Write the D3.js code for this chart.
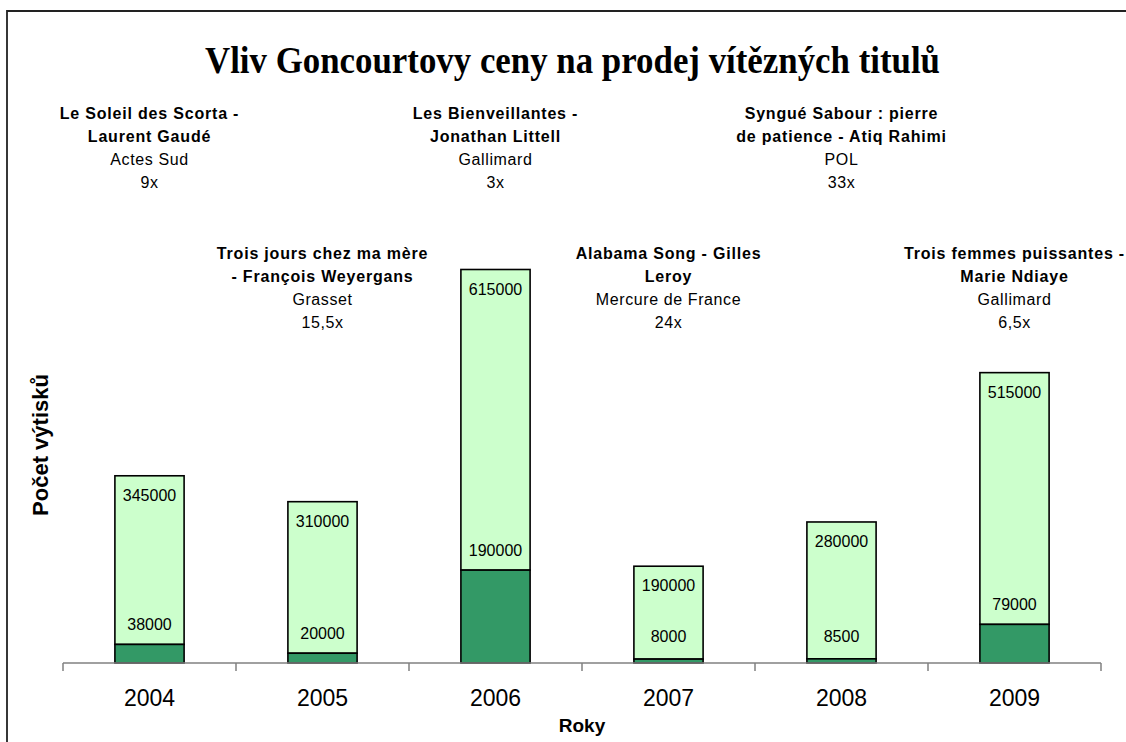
<!DOCTYPE html>
<html>
<head>
<meta charset="utf-8">
<script src="https://cdn.jsdelivr.net/npm/d3@7"></script>
<style>
  html, body { margin: 0; padding: 0; background: #fff; }
  svg { display: block; }
</style>
</head>
<body>
<svg id="chart" width="1126" height="742"></svg>
<script>
// ---- data ----
const years = ["2004", "2005", "2006", "2007", "2008", "2009"];
const beforePrize = [38000, 20000, 190000, 8000, 8500, 79000];
const afterPrize = [345000, 310000, 615000, 190000, 280000, 515000];
const bookTitles = [
  ["Le Soleil des Scorta -", "Laurent Gaudé"],
  ["Trois jours chez ma mère", "- François Weyergans"],
  ["Les Bienveillantes -", "Jonathan Littell"],
  ["Alabama Song - Gilles", "Leroy"],
  ["Syngué Sabour : pierre", "de patience - Atiq Rahimi"],
  ["Trois femmes puissantes -", "Marie Ndiaye"]
];
const publishers = ["Actes Sud", "Grasset", "Gallimard", "Mercure de France", "POL", "Gallimard"];
const multipliers = ["9x", "15,5x", "3x", "24x", "33x", "6,5x"];
const chartTitle = "Vliv Goncourtovy ceny na prodej vítězných titulů";
const xTitle = "Roky";
const yTitle = "Počet výtisků";

// ---- layout ----
const svg = d3.select("#chart");
const plot = { left: 63, right: 1101, bottom: 663, top: 269.5 };
const FONT = "Arial, 'Liberation Sans', sans-serif";

// frame (top + left edges visible)
svg.append("path")
  .attr("d", "M7,742 L7,11 L1126,11")
  .attr("fill", "none").attr("stroke", "#222").attr("stroke-width", 1.8);

const x = d3.scaleBand().domain(years).range([plot.left, plot.right])
  .paddingInner(0.6).paddingOuter(0.3);
const y = d3.scaleLinear().domain([0, 805000]).range([plot.bottom, plot.top]);

const rows = years.map((yr, i) => ({
  year: yr, before: beforePrize[i], after: afterPrize[i],
  title: bookTitles[i], pub: publishers[i], mult: multipliers[i], i
}));

// bars
const g = svg.append("g");
rows.forEach(d => {
  const bx = x(d.year), bw = x.bandwidth();
  const yDark = y(d.before), yTop = y(d.before + d.after);
  g.append("rect").attr("x", bx).attr("y", yTop).attr("width", bw)
    .attr("height", yDark - yTop).attr("fill", "#CCFFCC")
    .attr("stroke", "#000").attr("stroke-width", 1.6);
  g.append("rect").attr("x", bx).attr("y", yDark).attr("width", bw)
    .attr("height", y(0) - yDark).attr("fill", "#339966")
    .attr("stroke", "#000").attr("stroke-width", 1.6);
  const cx = bx + bw / 2;
  g.append("text").attr("x", cx).attr("y", yTop + 19.5 + 5.7)
    .attr("text-anchor", "middle").attr("font-family", FONT).attr("font-size", 16)
    .text(d.after);
  const ly = Math.min(yDark - 20, y(0) - 27);
  g.append("text").attr("x", cx).attr("y", ly + 5.7)
    .attr("text-anchor", "middle").attr("font-family", FONT).attr("font-size", 16)
    .text(d.before);
});

// x axis
const xAxisG = svg.append("g");
xAxisG.append("line").attr("x1", plot.left).attr("x2", plot.right)
  .attr("y1", plot.bottom).attr("y2", plot.bottom)
  .attr("stroke", "#808080").attr("stroke-width", 1.5);
const step = x.step();
d3.range(years.length + 1).forEach(k => {
  const tx = plot.left + k * step;
  xAxisG.append("line").attr("x1", tx).attr("x2", tx)
    .attr("y1", plot.bottom).attr("y2", plot.bottom + 8)
    .attr("stroke", "#808080").attr("stroke-width", 1.5);
});
years.forEach(yr => {
  xAxisG.append("text").attr("x", x(yr) + x.bandwidth() / 2).attr("y", 706)
    .attr("text-anchor", "middle").attr("font-family", FONT).attr("font-size", 23)
    .text(yr);
});

// axis titles
svg.append("text").attr("x", 582).attr("y", 732)
  .attr("text-anchor", "middle").attr("font-family", FONT).attr("font-size", 19)
  .attr("font-weight", "bold").text(xTitle);
svg.append("text").attr("transform", "translate(48,445) rotate(-90)")
  .attr("text-anchor", "middle").attr("font-family", FONT).attr("font-size", 22)
  .attr("font-weight", "bold").text(yTitle);

// chart title
svg.append("text").attr("x", 572.5).attr("y", 73)
  .attr("text-anchor", "middle")
  .attr("font-family", "'Liberation Serif', 'Times New Roman', serif")
  .attr("font-size", 37).attr("font-weight", "bold")
  .attr("textLength", 735).attr("lengthAdjust", "spacingAndGlyphs")
  .text(chartTitle);

// annotations
rows.forEach(d => {
  const cx = x(d.year) + x.bandwidth() / 2;
  const firstY = d.i % 2 === 0 ? 113 : 253;
  const lines = [
    { t: d.title[0], b: true }, { t: d.title[1], b: true },
    { t: d.pub, b: false }, { t: d.mult, b: false }
  ];
  lines.forEach((ln, k) => {
    svg.append("text").attr("x", cx).attr("y", firstY + k * 23.2 + 5.7)
      .attr("text-anchor", "middle").attr("font-family", FONT)
      .attr("font-size", 16).attr("letter-spacing", ln.b ? 0.8 : 0.6)
      .attr("font-weight", ln.b ? "bold" : "normal")
      .text(ln.t);
  });
});
</script>
</body>
</html>
